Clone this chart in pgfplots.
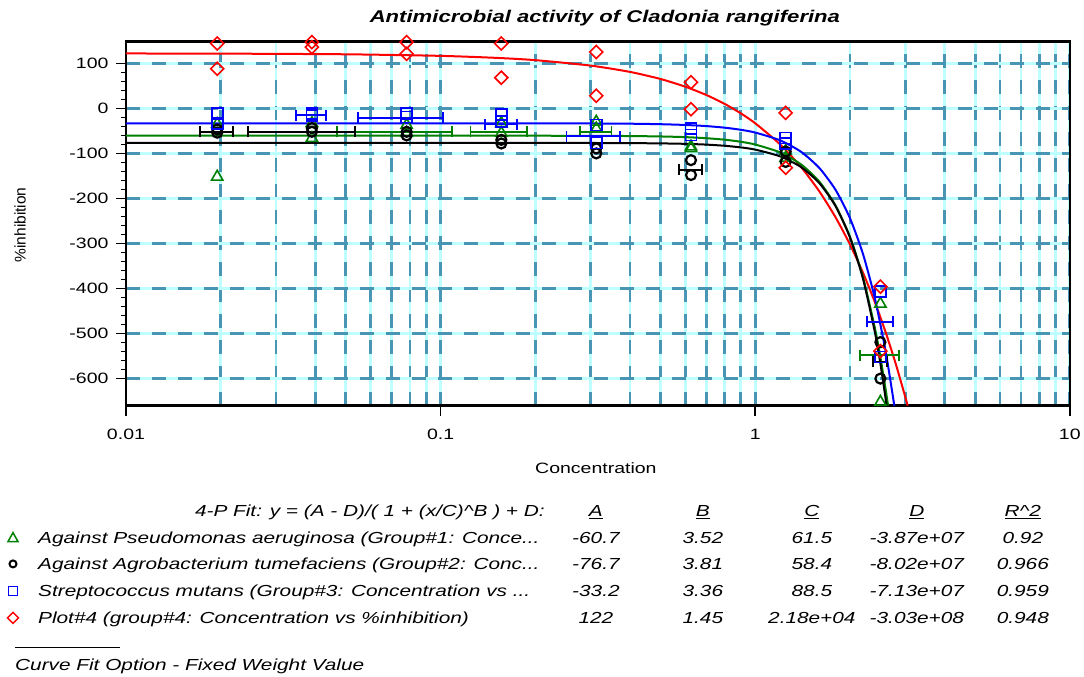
\documentclass[border=0pt]{standalone}
\usepackage{fontspec}
\setmainfont{Liberation Sans}[FakeStretch=1.3]
\newfontfamily\plainsans{Liberation Sans}
\usepackage{pgfplots}
\pgfplotsset{compat=1.18}
\definecolor{gridcyan}{RGB}{190,255,255}
\definecolor{gridteal}{RGB}{72,150,180}
\definecolor{pgreen}{RGB}{0,128,0}
\definecolor{pblue}{RGB}{0,0,255}
\definecolor{pred}{RGB}{255,0,0}
\pgfplotsset{
  fitline/.style={line width=2pt, mark=none, smooth, tension=0.4},
  xbars/.style={draw=none, mark=none, forget plot,
    error bars/.cd, x dir=both, x explicit, error mark=|,
    error bar style={draw=#1, line width=1.8pt},
    error mark options={draw=#1, line width=1.8pt, mark size=5.5pt}},
}
\begin{document}
\begin{tikzpicture}[x=1pt,y=1pt]
\path (-126,-271.3) rectangle (958,405.7);
\begin{axis}[
  at={(0,0)}, anchor=south west,
  scale only axis, width=944pt, height=364pt,
  xmode=log, xmin=0.01, xmax=10, ymin=-660, ymax=148,
  xtick={0.01,0.1,1,10}, xticklabels={0.01,0.1,1,10},
  minor xtick={0.02,0.03,0.04,0.05,0.06,0.07,0.08,0.09,0.2,0.3,0.4,0.5,0.6,0.7,0.8,0.9,2,3,4,5,6,7,8,9},
  ytick={-600,-500,-400,-300,-200,-100,0,100},
  yticklabels={-600,-500,-400,-300,-200,-100,0,100},
  minor y tick num=4,
  xmajorgrids, xminorgrids, ymajorgrids,
  major grid style={draw=gridcyan, line width=2.8pt, postaction={draw=gridteal, line width=2.8pt, dash pattern=on 14pt off 12pt}},
  minor grid style={draw=gridcyan, line width=2.8pt, postaction={draw=gridteal, line width=2.8pt, dash pattern=on 14pt off 12pt}},
  tick pos=left, tick align=outside,
  major tick length=10pt, minor tick length=5pt,
  minor x tick style={draw=none},
  every tick/.style={black, line width=1.6pt},
  axis line style={line width=2.4pt},
  tick label style={font=\fontsize{15}{18}\selectfont},
  /pgf/number format/assume math mode=true,
  xticklabel style={yshift=-10pt},
  yticklabel style={xshift=-4pt},
  clip=false,
]
% fitted curves
\addplot[pred, fitline] coordinates {(0.01,121.8)(0.02,121.5)(0.05,120.0)(0.1,116.5)(0.15,112.1)(0.2,107.0)(0.3,94.9)(0.4,80.9)(0.5,65.2)(0.6,48.0)(0.7,29.5)(0.8,9.8)(0.9,-11.1)(1.0,-33.1)(1.2,-80.0)(1.4,-130.6)(1.6,-184.6)(1.8,-241.7)(2.0,-301.8)(2.2,-364.6)(2.4,-430.0)(2.6,-497.9)(2.8,-568.2)(3.0,-640.9)(3.052,-660)};
\addplot[pgreen, fitline] coordinates {(0.01,-60.7)(0.1,-60.7)(0.2,-60.8)(0.3,-61.0)(0.4,-61.5)(0.5,-62.4)(0.6,-63.9)(0.7,-66.3)(0.8,-69.6)(0.9,-74.2)(1.0,-80.3)(1.2,-97.8)(1.4,-124.6)(1.6,-162.9)(1.8,-215.5)(2.0,-284.9)(2.2,-374.4)(2.4,-486.9)(2.5,-552.6)(2.6,-625.5)(2.644,-660)};
\addplot[black, fitline] coordinates {(0.01,-76.7)(0.2,-76.7)(0.3,-76.9)(0.4,-77.2)(0.5,-77.8)(0.6,-78.8)(0.7,-80.5)(0.8,-83.1)(0.9,-86.7)(1.0,-91.6)(1.2,-106.6)(1.4,-130.5)(1.6,-166.2)(1.8,-216.9)(2.0,-286.1)(2.2,-377.8)(2.4,-496.3)(2.5,-566.7)(2.617,-660)};
\addplot[pblue, fitline] coordinates {(0.01,-33.2)(0.2,-33.3)(0.3,-33.6)(0.4,-34.1)(0.5,-35.2)(0.6,-36.9)(0.7,-39.4)(0.8,-42.9)(0.9,-47.6)(1.0,-53.7)(1.2,-71.0)(1.4,-96.6)(1.6,-132.6)(1.8,-180.8)(2.0,-243.5)(2.2,-322.9)(2.4,-421.3)(2.6,-540.9)(2.768,-660)};
% horizontal error bars
\addplot[xbars=pgreen] coordinates {(0.078,-52) += (0.0306,0) -= (0.0312,0) (0.156,-52) += (0.0317,0) -= (0.0315,0) (0.3125,-52) += (0.037,0) -= (0.035,0) (2.5,-548) += (0.36,0) -= (0.35,0)};
\addplot[xbars=black] coordinates {(0.0195,-52) += (0.0024,0) -= (0.0023,0) (0.039,-52) += (0.0144,0) -= (0.0146,0) (0.625,-136) += (0.0515,0) -= (0.053,0) (2.5,-563) += (0.119,0) -= (0.136,0)};
\addplot[xbars=pblue] coordinates {(0.039,-15) += (0.0042,0) -= (0.0043,0) (0.078,-21) += (0.0237,0) -= (0.0234,0) (0.156,-35) += (0.0187,0) -= (0.0177,0) (0.3125,-62) += (0.059,0) -= (0.061,0) (2.5,-474) += (0.236,0) -= (0.238,0)};
% replicates
\addplot[only marks, pgreen, mark=triangle, mark size=6.5pt, mark options={line width=1.6pt}] coordinates {(0.0195,-152)(0.0195,-35)(0.039,-33)(0.039,-66)(0.078,-37)(0.078,-55)(0.156,-33)(0.156,-55)(0.3125,-30)(0.3125,-45)(0.625,-85)(0.625,-89)(1.25,-95)(1.25,-110)(2.5,-434)(2.5,-652)};
\addplot[only marks, black, mark=o, mark size=5pt, mark options={line width=2.2pt}] coordinates {(0.0195,-47)(0.0195,-54)(0.039,-44)(0.039,-52)(0.078,-52)(0.078,-60)(0.156,-70)(0.156,-78)(0.3125,-89)(0.3125,-100)(0.625,-115)(0.625,-148)(1.25,-96)(1.25,-119)(2.5,-519)(2.5,-600)};
\addplot[only marks, pblue, mark=square, mark size=5.5pt, mark options={line width=1.8pt}] coordinates {(0.0195,-11)(0.0195,-33)(0.039,-11)(0.039,-15)(0.078,-11)(0.078,-19)(0.156,-13)(0.156,-30)(0.3125,-37)(0.3125,-77)(0.625,-44)(0.625,-59)(1.25,-66)(1.25,-78)(2.5,-407)(2.5,-552)};
\addplot[only marks, pred, mark=square, mark size=4.6pt, mark options={rotate=45, line width=1.6pt}] coordinates {(0.0195,144)(0.0195,88)(0.039,147)(0.039,136)(0.078,147)(0.078,121)(0.156,144)(0.156,68)(0.3125,125)(0.3125,28)(0.625,58)(0.625,-2)(1.25,-10)(1.25,-132)(2.5,-396)(2.5,-539)};
\end{axis}
% titles and labels
\node[font=\fontsize{17}{20}\selectfont\bfseries\itshape] at (479,387.7) {Antimicrobial activity of Cladonia rangiferina};
\node[font=\fontsize{15}{18}\selectfont] at (470,-62.3) {Concentration};
\node[font=\plainsans\fontsize{15.5}{18}\selectfont, rotate=90] at (-106,180.7) {\%inhibition};
% fit table
\begin{scope}[every node/.style={font=\fontsize{16}{19}\selectfont\itshape, inner sep=0pt}]
\node[anchor=base east] at (419,-111.3) {4-P Fit: y = (A - D)/( 1 + (x/C)\textasciicircum B ) + D:};
\foreach \cx/\t in {470/A, 577/B, 686/C, 791/D, 897/R\textasciicircum 2}
  \node[anchor=base] at (\cx,-111.3) {\underline{\t}};
\node[anchor=base west] at (-88,-138.3) {Against Pseudomonas aeruginosa (Group\#1: Conce...};
\node[anchor=base west] at (-88,-164.3) {Against Agrobacterium tumefaciens (Group\#2: Conc...};
\node[anchor=base west] at (-88,-191.3) {Streptococcus mutans (Group\#3: Concentration vs ...};
\node[anchor=base west] at (-88,-218.3) {Plot\#4 (group\#4: Concentration vs \%inhibition)};
\foreach \cx/\a/\b/\c/\d in {470/-60.7/-76.7/-33.2/122, 577/3.52/3.81/3.36/1.45, 686/61.5/58.4/88.5/2.18e+04, 791/-3.87e+07/-8.02e+07/-7.13e+07/-3.03e+08, 897/0.92/0.966/0.959/0.948}{
  \node[anchor=base] at (\cx,-138.3) {\a};
  \node[anchor=base] at (\cx,-164.3) {\b};
  \node[anchor=base] at (\cx,-191.3) {\c};
  \node[anchor=base] at (\cx,-218.3) {\d};
}
\draw[line width=0.8pt] (-111,-242.3) -- (-6,-242.3);
\node[anchor=base west] at (-111,-265.3) {Curve Fit Option - Fixed Weight Value};
\end{scope}
% legend symbols
\draw[pgreen, line width=1.5pt] (-118,-136) -- (-108,-136) -- (-113,-127) -- cycle;
\draw[black, line width=2pt] (-113,-158.3) circle (3.5);
\draw[pblue, line width=1.5pt] (-117.5,-189.8) rectangle (-108.5,-180.8);
\draw[pred, line width=1.5pt] (-113,-206.8) -- (-107.5,-212.3) -- (-113,-217.8) -- (-118.5,-212.3) -- cycle;
\end{tikzpicture}
\end{document}
